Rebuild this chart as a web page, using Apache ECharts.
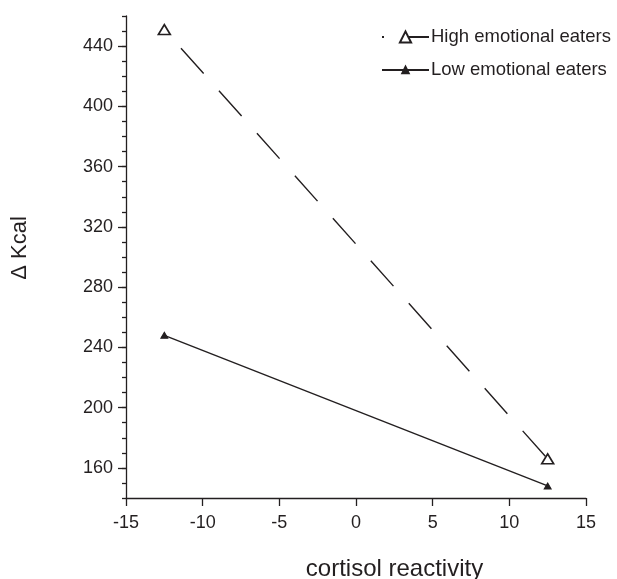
<!DOCTYPE html>
<html><head><meta charset="utf-8">
<script src="https://cdn.jsdelivr.net/npm/echarts@6/dist/echarts.min.js"></script>
<style>html,body{margin:0;padding:0;background:#fff;overflow:hidden}#c{width:617px;height:579px}</style>
</head><body><div id="c"></div>
<script>
const xValues = [-12.5, 12.5];
const highEmotional = [451, 166];
const lowEmotional = [248, 148];
const yLabelValues = [160, 200, 240, 280, 320, 360, 400, 440];
const seriesNames = ['High emotional eaters', 'Low emotional eaters'];

const ink = '#231f20';
const font = 'Liberation Sans, Arial, sans-serif';
const legendText = {fontFamily: font, fontSize: 18.5, lineHeight: 20, color: ink, padding: [0,0,0,-3]};
const chart = echarts.init(document.getElementById('c'));
chart.setOption({
  animation: false,
  grid: {left: 126, right: 31, top: 16, bottom: 81, outerBoundsMode: 'none', containLabel: false},
  legend: [{
    left: 381, top: 27, orient: 'vertical', padding: 0,
    itemWidth: 47, itemHeight: 14, align: 'left',
    textStyle: legendText, data: [seriesNames[0]]
  }, {
    left: 381, top: 60, orient: 'vertical', padding: 0,
    itemWidth: 47, itemHeight: 8, align: 'left',
    textStyle: legendText, data: [seriesNames[1]]
  }],
  xAxis: {
    type: 'value', min: -15, max: 15, interval: 5,
    axisLine: {onZero: false, lineStyle: {color: ink, width: 1.3}},
    axisTick: {show: true, length: 8, lineStyle: {color: ink, width: 1.3}},
    axisLabel: {fontFamily: font, fontSize: 18, color: ink, margin: 16},
    splitLine: {show: false},
    name: 'cortisol reactivity', nameLocation: 'middle', nameGap: 59,
    nameTextStyle: {fontFamily: font, fontSize: 24, color: ink, padding: [0,0,0,77]}
  },
  yAxis: [{
    type: 'value', min: 140, max: 460, interval: 10,
    axisLine: {show: true, onZero: false, lineStyle: {color: ink, width: 1.3}},
    axisTick: {show: true, length: 8, customValues: yLabelValues, lineStyle: {color: ink, width: 1.3}},
    axisLabel: {fontFamily: font, fontSize: 18, color: ink, margin: 13, customValues: yLabelValues},
    splitLine: {show: false},
    name: '\u0394 Kcal', nameLocation: 'middle', nameGap: 95, nameRotate: 90,
    nameTextStyle: {fontFamily: font, fontSize: 22, color: ink, padding: [0,0,0,18]}
  }, {
    type: 'value', min: 140, max: 460, interval: 10, position: 'left',
    axisLine: {show: false, onZero: false},
    axisTick: {show: true, length: 4, lineStyle: {color: ink, width: 1.3}},
    axisLabel: {show: false}, splitLine: {show: false}
  }],
  series: [{
    name: seriesNames[0], type: 'line', yAxisIndex: 0,
    data: xValues.map((x, i) => [x, highEmotional[i]]),
    symbol: 'triangle', symbolSize: [12, 10],
    itemStyle: {color: '#fff', borderColor: ink, borderWidth: 1.6},
    lineStyle: {color: ink, width: 1.4, type: [34, 23], dashOffset: 32}
  }, {
    name: seriesNames[1], type: 'line', yAxisIndex: 0,
    data: xValues.map((x, i) => [x, lowEmotional[i]]),
    symbol: 'triangle', symbolSize: [7, 6],
    itemStyle: {color: ink, borderColor: ink, borderWidth: 1},
    lineStyle: {color: ink, width: 1.4}
  }]
});
</script></body></html>
